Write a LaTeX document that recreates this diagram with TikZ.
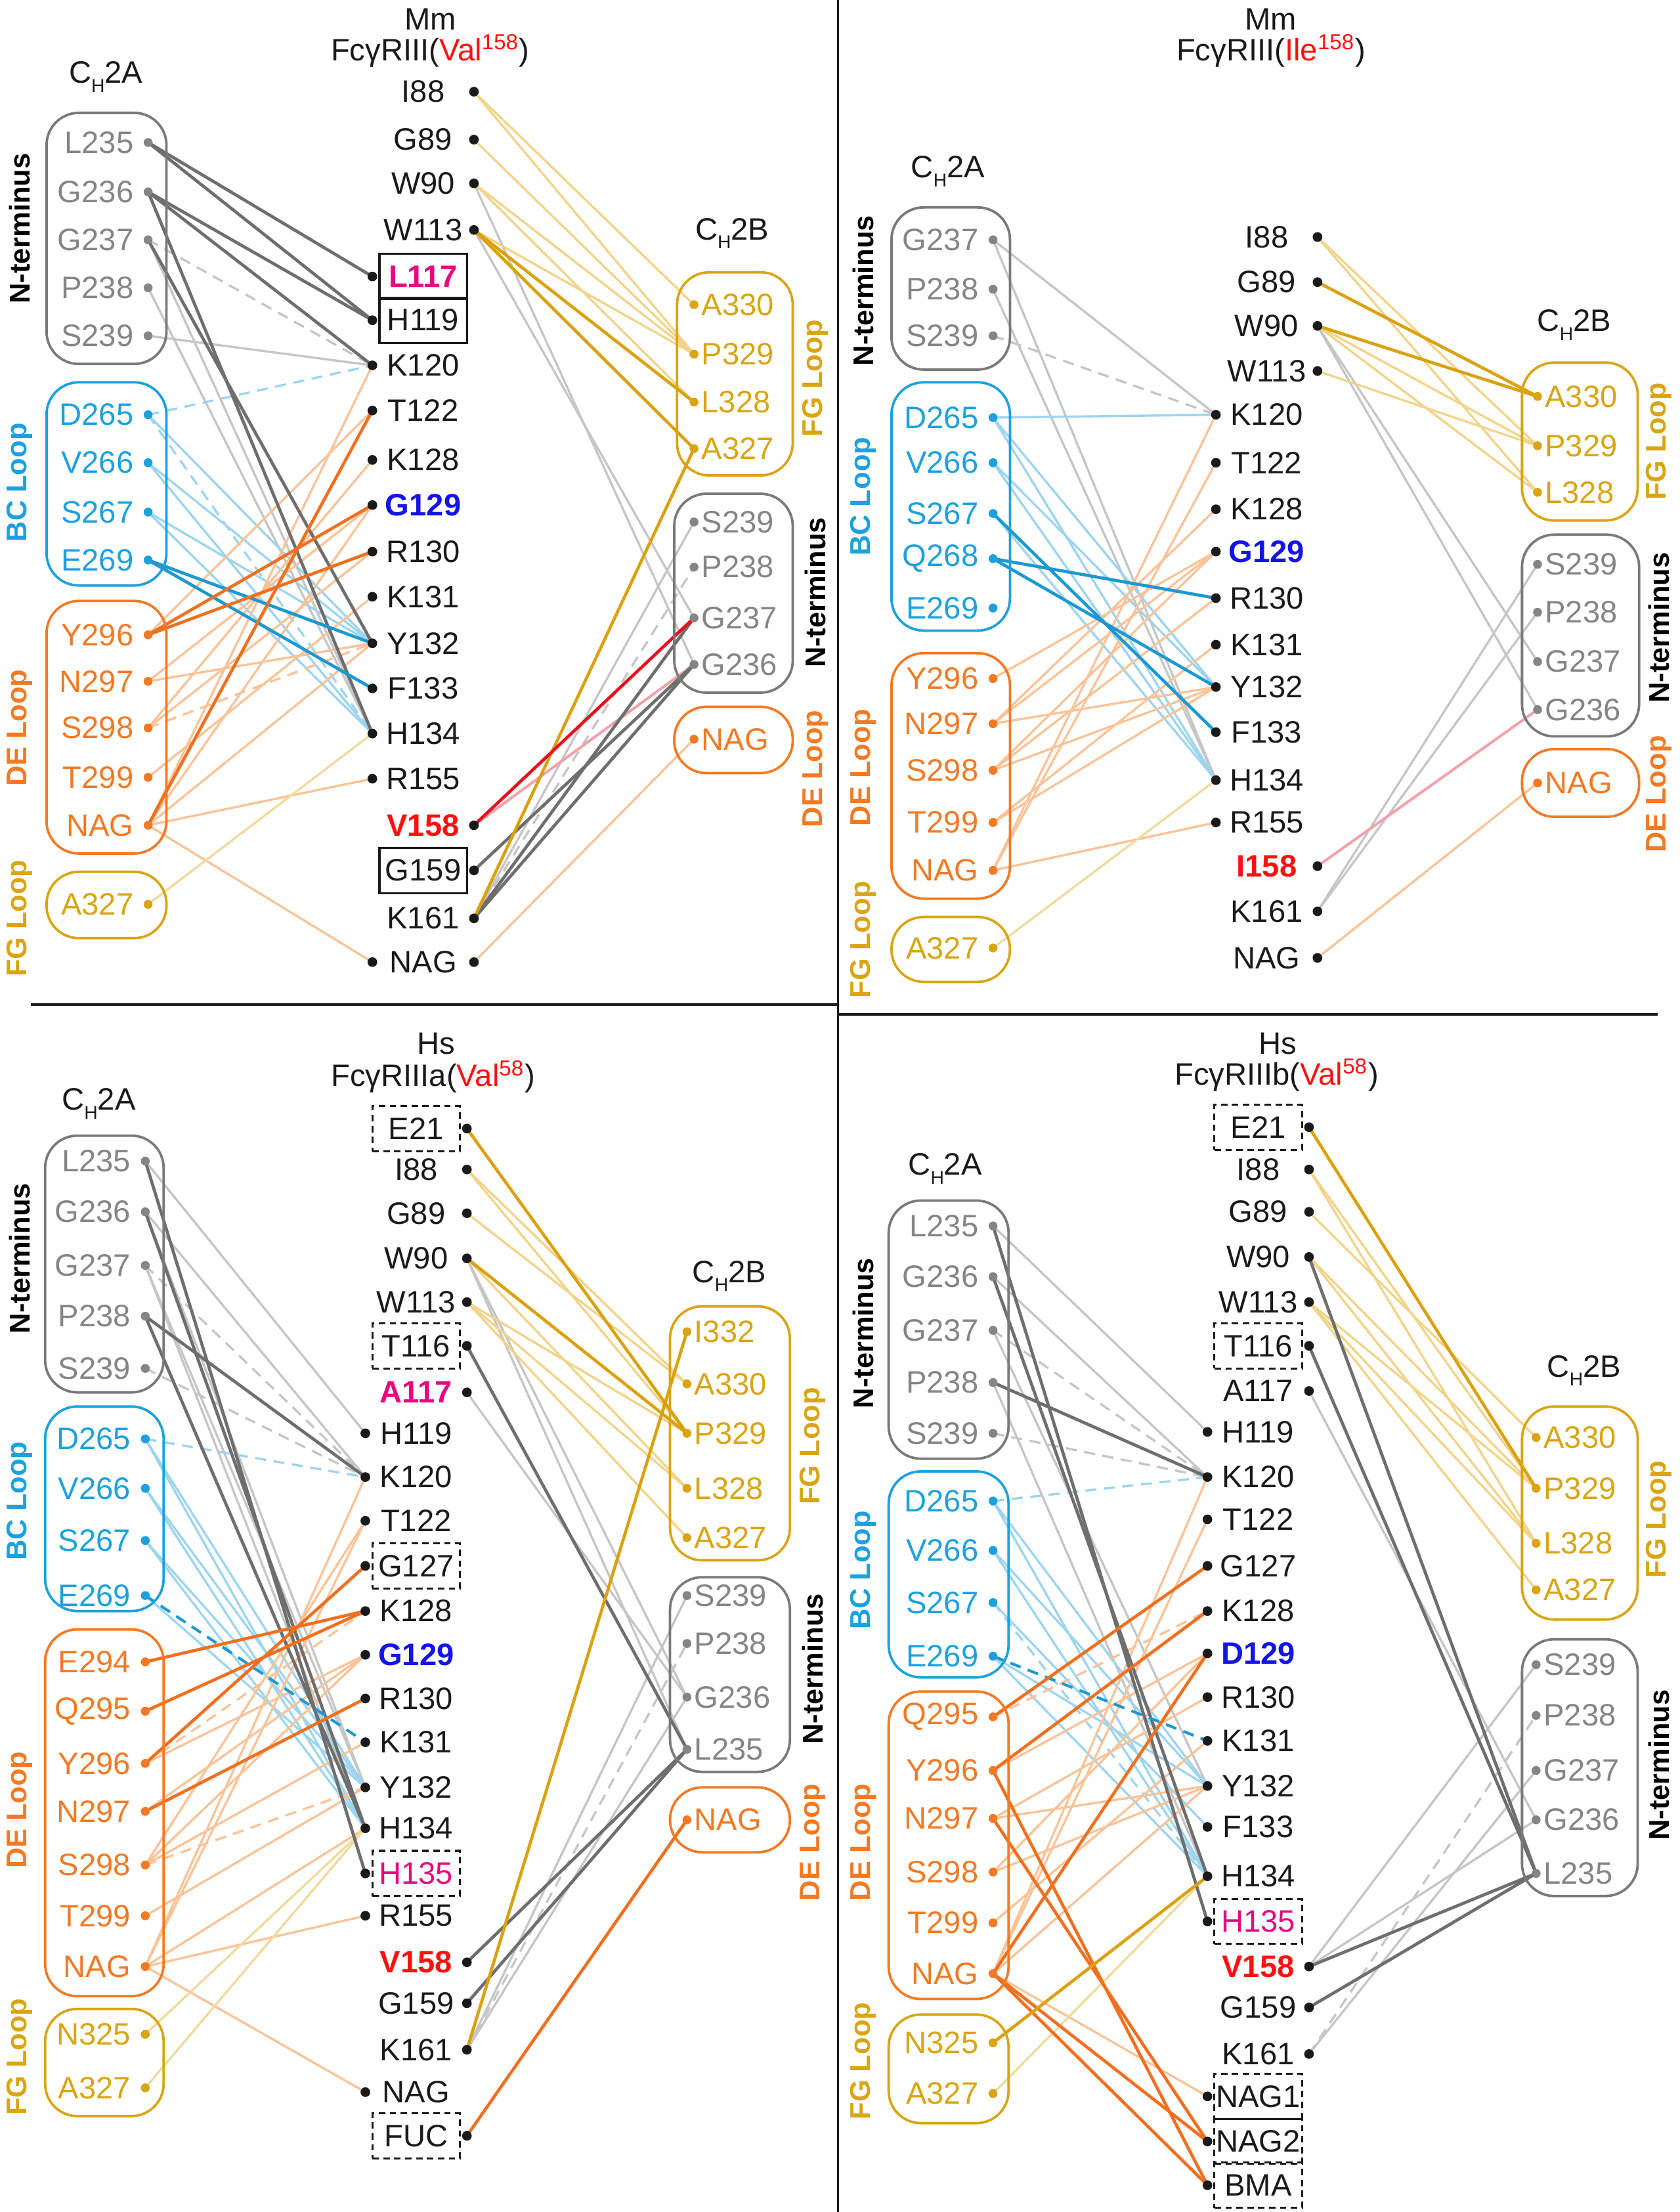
\documentclass[tikz,border=0pt]{standalone}
\usepackage{fontspec}
\setmainfont{Liberation Sans}
\definecolor{tblack}{HTML}{1A1A1A}
\definecolor{tgray}{HTML}{858585}
\definecolor{bgray}{HTML}{7A7A7A}
\definecolor{tblue}{HTML}{1DA1DE}
\definecolor{torange}{HTML}{F27A24}
\definecolor{tgold}{HTML}{D9A514}
\definecolor{dblue}{HTML}{1414E6}
\definecolor{mag}{HTML}{E5087F}
\definecolor{vred}{HTML}{FF1010}
\definecolor{cgk}{HTML}{6E6E6E}
\definecolor{cgl}{HTML}{C6C6C6}
\definecolor{cbl}{HTML}{9DD5F0}
\definecolor{cbk}{HTML}{1C98D3}
\definecolor{col}{HTML}{FAC398}
\definecolor{cok}{HTML}{F07020}
\definecolor{cyl}{HTML}{F2D48A}
\definecolor{cyk}{HTML}{DBA10E}
\definecolor{cpy}{HTML}{EFDB9E}
\definecolor{crk}{HTML}{E8101C}
\definecolor{cpk}{HTML}{F2A2AA}
\newcommand\lab{\fontsize{12.5}{15}\selectfont}
\newcommand\sidef{\fontsize{11.5}{14}\selectfont\bfseries}
\newcommand\chh{C\raisebox{-0.55ex}{\fontsize{7.5}{8}\selectfont H}}
\pgfdeclarelayer{bg}
\pgfsetlayers{bg,main}
\tikzset{
  lbl/.style={inner sep=0pt, font=\lab, text=tblack},
  bb/.style={font=\lab\bfseries},
  dot/.style={circle, inner sep=0pt, minimum size=3.6pt},
  mdot/.style={circle, inner sep=0pt, minimum size=3.9pt, fill=tblack},
  grp/.style={draw, rounded corners=13pt, line width=1pt},
  sidel/.style={font=\sidef, rotate=90, inner sep=0pt},
  sbox/.style={draw=tblack, line width=0.8pt, minimum width=1.24cm, minimum height=0.64cm},
  dbox/.style={sbox, dash pattern=on 2.6pt off 1.8pt},
  gk/.style={draw=cgk, line width=1.25pt},
  gl/.style={draw=cgl, line width=0.9pt},
  gd/.style={draw=cgl, line width=0.9pt, dash pattern=on 4.5pt off 3pt},
  bl/.style={draw=cbl, line width=0.9pt},
  bd/.style={draw=cbl, line width=0.9pt, dash pattern=on 4.5pt off 3pt},
  bk/.style={draw=cbk, line width=1.25pt},
  bkd/.style={draw=cbk, line width=1.1pt, dash pattern=on 4.5pt off 3pt},
  ol/.style={draw=col, line width=0.9pt},
  od/.style={draw=col, line width=0.9pt, dash pattern=on 4.5pt off 3pt},
  ok/.style={draw=cok, line width=1.25pt},
  yl/.style={draw=cyl, line width=0.9pt},
  yk/.style={draw=cyk, line width=1.25pt},
  py/.style={draw=cpy, line width=0.9pt},
  rk/.style={draw=crk, line width=1.25pt},
  pk/.style={draw=cpk, line width=1.1pt}
}
% CH2A item: prefix, text, dot x, y, colour
\newcommand\Aitem[5]{\node[dot,fill=#5] (#1#2) at (#3,#4) {}; \node[lbl,text=#5,anchor=east] at (#3-10,#4) {#2};}
% CH2B item
\newcommand\Bitem[5]{\node[dot,fill=#5] (#1#2) at (#3,#4) {}; \node[lbl,text=#5,anchor=west] at (#3+5,#4) {#2};}
% middle items: [opts]{prefix}{text}{y}{centre}
\newcommand\Ml[5][]{\node[mdot] (#2#3) at (#5-36,#4) {}; \node[lbl,#1] at (#5,#4) {#3};}
\newcommand\Mr[5][]{\node[mdot] (#2#3) at (#5+36,#4) {}; \node[lbl,#1] at (#5,#4) {#3};}
\newcommand\links[2]{\foreach \u/\v in {#2} {\draw[#1] (\u.center) -- (\v.center);}}
\begin{document}
\begin{tikzpicture}[x=0.02cm,y=-0.02cm]
\useasboundingbox (0,0) rectangle (1191,1568);
% dividers
\draw[line width=0.9pt,tblack] (594,0) -- (594,1568);
\draw[line width=0.9pt,tblack] (22,712) -- (594,712);
\draw[line width=0.9pt,tblack] (594,719) -- (1175,719);

%================ TOP LEFT =================
\node[lbl,anchor=base] at (305,21) {Mm};
\node[lbl,anchor=base] at (305,43) {FcγRIII(\textcolor{vred}{Val\textsuperscript{158}})};
\node[lbl,anchor=base] at (75,59) {\chh 2A};
\draw[grp,bgray] (33,80) rectangle (118,258);
\foreach \t/\y in {L235/101,G236/136,G237/170,P238/204,S239/238} {\Aitem{aA}{\t}{105}{\y}{tgray}}
\draw[grp,tblue] (33,271) rectangle (118,415);
\foreach \t/\y in {D265/294,V266/328,S267/363,E269/397} {\Aitem{aA}{\t}{105}{\y}{tblue}}
\draw[grp,torange] (33,426) rectangle (118,605);
\foreach \t/\y in {Y296/450,N297/483,S298/516,T299/551,NAG/585} {\Aitem{aA}{\t}{105}{\y}{torange}}
\draw[grp,tgold] (33,618) rectangle (118,665);
\Aitem{aA}{A327}{105}{641}{tgold}
\node[sidel,text=black] at (14,162) {N-terminus};
\node[sidel,text=tblue] at (14,342) {BC Loop};
\node[sidel,text=torange] at (14,516) {DE Loop};
\node[sidel,text=tgold] at (14,651) {FG Loop};
% middle
\foreach \t/\y in {I88/65,G89/99,W90/130,W113/163,K161/651} {\Mr{aM}{\t}{\y}{300}}
\Ml[bb,text=mag,sbox]{aM}{L117}{196}{300}
\Ml[sbox]{aM}{H119}{227}{300}
\foreach \t/\y in {K120/259,T122/291,K128/326,R130/391,K131/423,Y132/456,F133/488,H134/520,R155/552} {\Ml{aM}{\t}{\y}{300}}
\Ml[bb,text=dblue]{aM}{G129}{358}{300}
\Mr[bb,text=vred]{aM}{V158}{585}{300}
\Mr[sbox]{aM}{G159}{617}{300}
\Ml{aM}{NAG}{682}{300}
\node[mdot] (aMNAGr) at (336,682) {};
% CH2B
\node[lbl,anchor=base] at (519,170) {\chh 2B};
\draw[grp,tgold] (480,193) rectangle (562,337);
\foreach \t/\y in {A330/216,P329/251,L328/285,A327/318} {\Bitem{aB}{\t}{492}{\y}{tgold}}
\draw[grp,bgray] (478,350) rectangle (562,491);
\foreach \t/\y in {S239/370,P238/402,G237/438,G236/471} {\Bitem{aB}{\t}{492}{\y}{tgray}}
\draw[grp,torange] (478,501) rectangle (562,548);
\Bitem{aB}{NAG}{492}{524}{torange}
\node[sidel,text=tgold] at (578,268) {FG Loop};
\node[sidel,text=black] at (578,420) {N-terminus};
\node[sidel,text=torange] at (578,545) {DE Loop};

%================ TOP RIGHT =================
\node[lbl,anchor=base] at (901,21) {Mm};
\node[lbl,anchor=base] at (901,43) {FcγRIII(\textcolor{vred}{Ile\textsuperscript{158}})};
\node[lbl,anchor=base] at (672,126) {\chh 2A};
\draw[grp,bgray] (632,147) rectangle (716,262);
\foreach \t/\y in {G237/170,P238/205,S239/238} {\Aitem{bA}{\t}{704}{\y}{tgray}}
\draw[grp,tblue] (632,271) rectangle (716,447);
\foreach \t/\y in {D265/296,V266/328,S267/364,Q268/396,E269/431} {\Aitem{bA}{\t}{704}{\y}{tblue}}
\draw[grp,torange] (632,463) rectangle (716,637);
\foreach \t/\y in {Y296/481,N297/513,S298/546,T299/583,NAG/617} {\Aitem{bA}{\t}{704}{\y}{torange}}
\draw[grp,tgold] (632,650) rectangle (716,696);
\Aitem{bA}{A327}{704}{672}{tgold}
\node[sidel,text=black] at (612,206) {N-terminus};
\node[sidel,text=tblue] at (612,352) {BC Loop};
\node[sidel,text=torange] at (612,544) {DE Loop};
\node[sidel,text=tgold] at (612,666) {FG Loop};
\foreach \t/\y in {I88/168,G89/200,W90/231,W113/263,K161/646,NAG/679} {\Mr{bM}{\t}{\y}{898}}
\foreach \t/\y in {K120/294,T122/328,K128/361,R130/424,K131/457,Y132/487,F133/519,H134/553,R155/583} {\Ml{bM}{\t}{\y}{898}}
\Ml[bb,text=dblue]{bM}{G129}{391}{898}
\Mr[bb,text=vred]{bM}{I158}{614}{898}
\node[lbl,anchor=base] at (1116,235) {\chh 2B};
\draw[grp,tgold] (1079,257) rectangle (1161,369);
\foreach \t/\y in {A330/281,P329/316,L328/349} {\Bitem{bB}{\t}{1090}{\y}{tgold}}
\draw[grp,bgray] (1079,379) rectangle (1162,522);
\foreach \t/\y in {S239/400,P238/434,G237/469,G236/503} {\Bitem{bB}{\t}{1090}{\y}{tgray}}
\draw[grp,torange] (1079,531) rectangle (1162,579);
\Bitem{bB}{NAG}{1090}{555}{torange}
\node[sidel,text=tgold] at (1176,313) {FG Loop};
\node[sidel,text=black] at (1176,445) {N-terminus};
\node[sidel,text=torange] at (1176,563) {DE Loop};

%================ BOTTOM LEFT =================
\node[lbl,anchor=base] at (309,747) {Hs};
\node[lbl,anchor=base] at (307,770) {FcγRIIIa(\textcolor{vred}{Val\textsuperscript{58}})};
\node[lbl,anchor=base] at (70,787) {\chh 2A};
\draw[grp,bgray] (32,805) rectangle (116,987);
\foreach \t/\y in {L235/823,G236/859,G237/897,P238/933,S239/970} {\Aitem{cA}{\t}{103}{\y}{tgray}}
\draw[grp,tblue] (32,997) rectangle (116,1142);
\foreach \t/\y in {D265/1020,V266/1055,S267/1092,E269/1131} {\Aitem{cA}{\t}{103}{\y}{tblue}}
\draw[grp,torange] (32,1155) rectangle (116,1415);
\foreach \t/\y in {E294/1178,Q295/1213,Y296/1250,N297/1284,S298/1322,T299/1358,NAG/1394} {\Aitem{cA}{\t}{103}{\y}{torange}}
\draw[grp,tgold] (32,1424) rectangle (116,1500);
\foreach \t/\y in {N325/1442,A327/1480} {\Aitem{cA}{\t}{103}{\y}{tgold}}
\node[sidel,text=black] at (14,892) {N-terminus};
\node[sidel,text=tblue] at (14,1064) {BC Loop};
\node[sidel,text=torange] at (14,1283) {DE Loop};
\node[sidel,text=tgold] at (14,1458) {FG Loop};
\Mr[dbox]{cM}{E21}{800}{295}
\foreach \t/\y in {I88/829,G89/860,W90/892,W113/923,G159/1420,K161/1453} {\Mr{cM}{\t}{\y}{295}}
\Mr[dbox]{cM}{T116}{954}{295}
\Mr[bb,text=mag]{cM}{A117}{987}{295}
\foreach \t/\y in {H119/1016,K120/1047,T122/1078,K128/1142,R130/1204,K131/1235,Y132/1267,H134/1296,R155/1358,NAG/1483} {\Ml{cM}{\t}{\y}{295}}
\Ml[dbox]{cM}{G127}{1110}{295}
\Ml[bb,text=dblue]{cM}{G129}{1173}{295}
\Ml[text=mag,dbox]{cM}{H135}{1328}{295}
\Mr[bb,text=vred]{cM}{V158}{1391}{295}
\Mr[dbox]{cM}{FUC}{1514}{295}
\node[lbl,anchor=base] at (517,909) {\chh 2B};
\draw[grp,tgold] (475,926) rectangle (560,1106);
\foreach \t/\y in {I332/944,A330/981,P329/1016,L328/1055,A327/1090} {\Bitem{cB}{\t}{487}{\y}{tgold}}
\draw[grp,bgray] (475,1118) rectangle (560,1256);
\foreach \t/\y in {S239/1131,P238/1165,G236/1203,L235/1240} {\Bitem{cB}{\t}{487}{\y}{tgray}}
\draw[grp,torange] (475,1267) rectangle (560,1313);
\Bitem{cB}{NAG}{487}{1290}{torange}
\node[sidel,text=tgold] at (576,1025) {FG Loop};
\node[sidel,text=black] at (576,1183) {N-terminus};
\node[sidel,text=torange] at (576,1306) {DE Loop};

%================ BOTTOM RIGHT =================
\node[lbl,anchor=base] at (906,747) {Hs};
\node[lbl,anchor=base] at (905,769) {FcγRIIIb(\textcolor{vred}{Val\textsuperscript{58}})};
\node[lbl,anchor=base] at (670,833) {\chh 2A};
\draw[grp,bgray] (630,851) rectangle (715,1034);
\foreach \t/\y in {L235/869,G236/905,G237/943,P238/980,S239/1016} {\Aitem{dA}{\t}{704}{\y}{tgray}}
\draw[grp,tblue] (630,1043) rectangle (715,1189);
\foreach \t/\y in {D265/1064,V266/1099,S267/1136,E269/1174} {\Aitem{dA}{\t}{704}{\y}{tblue}}
\draw[grp,torange] (630,1199) rectangle (715,1417);
\foreach \t/\y in {Q295/1217,Y296/1255,N297/1289,S298/1327,T299/1363,NAG/1399} {\Aitem{dA}{\t}{704}{\y}{torange}}
\draw[grp,tgold] (630,1428) rectangle (715,1505);
\foreach \t/\y in {N325/1448,A327/1484} {\Aitem{dA}{\t}{704}{\y}{tgold}}
\node[sidel,text=black] at (612,945) {N-terminus};
\node[sidel,text=tblue] at (612,1113) {BC Loop};
\node[sidel,text=torange] at (612,1306) {DE Loop};
\node[sidel,text=tgold] at (612,1461) {FG Loop};
\Mr[dbox]{dM}{E21}{799}{892}
\foreach \t/\y in {I88/829,G89/859,W90/891,W113/923,A117/986,G159/1423,K161/1456} {\Mr{dM}{\t}{\y}{892}}
\Mr[dbox]{dM}{T116}{954}{892}
\foreach \t/\y in {H119/1015,K120/1047,T122/1077,G127/1110,K128/1142,R130/1203,K131/1234,Y132/1266,F133/1295,H134/1330} {\Ml{dM}{\t}{\y}{892}}
\Ml[bb,text=dblue]{dM}{D129}{1172}{892}
\Ml[text=mag,dbox]{dM}{H135}{1362}{892}
\Mr[bb,text=vred]{dM}{V158}{1394}{892}
\foreach \t/\y in {NAG1/1486,NAG2/1518,BMA/1549} {\Ml[dbox]{dM}{\t}{\y}{892}}
\node[lbl,anchor=base] at (1123,976) {\chh 2B};
\draw[grp,tgold] (1079,997) rectangle (1161,1148);
\foreach \t/\y in {A330/1019,P329/1055,L328/1094,A327/1127} {\Bitem{dB}{\t}{1089}{\y}{tgold}}
\draw[grp,bgray] (1079,1162) rectangle (1161,1344);
\foreach \t/\y in {S239/1180,P238/1216,G237/1255,G236/1290,L235/1328} {\Bitem{dB}{\t}{1089}{\y}{tgray}}
\node[sidel,text=tgold] at (1176,1077) {FG Loop};
\node[sidel,text=black] at (1176,1251) {N-terminus};

%================ CONNECTORS =================
\begin{pgfonlayer}{bg}
% --- top left
\links{gl}{aAS239/aMK120, aAP238/aMH134, aAG237/aMH134, aMW90/aBG236, aMW113/aBG237, aMK161/aBS239}
\links{gd}{aAG237/aMK120, aMK161/aBP238}
\links{bl}{aAD265/aMY132, aAV266/aMY132, aAV266/aMH134, aAS267/aMY132, aAS267/aMH134}
\links{bd}{aAD265/aMK120, aAD265/aMH134}
\links{ol}{aANAG/aMK120, aAY296/aMT122, aAS298/aMK128, aAN297/aMG129, aANAG/aMG129, aAS298/aMR130, aAT299/aMK131, aAN297/aMY132, aANAG/aMY132, aANAG/aMR155, aANAG/aMNAG, aMNAGr/aBNAG}
\links{od}{aAS298/aMY132}
\links{py}{aAA327/aMH134}
\links{yl}{aMI88/aBA330, aMI88/aBP329, aMG89/aBP329, aMW90/aBP329, aMW90/aBL328, aMW113/aBP329}
\links{pk}{aMV158/aBG236}
\links{gk}{aAL235/aML117, aAL235/aMH119, aAG236/aMH119, aAG236/aMK120, aAG236/aMH134, aAG237/aMY132, aMK161/aBG237, aMK161/aBG236, aMG159/aBG236}
\links{bk}{aAE269/aMY132, aAE269/aMF133}
\links{ok}{aAY296/aMG129, aAY296/aMR130, aANAG/aMT122}
\links{yk}{aMW113/aBL328, aMW113/aBA327, aMK161/aBA327}
\links{rk}{aMV158/aBG237}
% --- top right
\links{gl}{bAG237/bMK120, bAG237/bMH134, bAP238/bMH134, bMW90/bBG237, bMW90/bBG236, bMK161/bBS239, bMK161/bBP238}
\links{gd}{bAS239/bMK120}
\links{bl}{bAD265/bMK120, bAD265/bMY132, bAD265/bMH134, bAV266/bMY132, bAV266/bMH134, bAS267/bMH134}
\links{ol}{bAY296/bMG129, bAN297/bMK128, bAN297/bMG129, bAN297/bMY132, bAS298/bMG129, bAS298/bMR130, bAS298/bMY132, bAT299/bMK131, bAT299/bMY132, bANAG/bMK120, bANAG/bMT122, bANAG/bMR155, bMNAG/bBNAG}
\links{py}{bAA327/bMH134}
\links{yl}{bMI88/bBP329, bMI88/bBL328, bMW90/bBP329, bMW90/bBL328, bMW113/bBP329}
\links{pk}{bMI158/bBG236}
\links{bk}{bAS267/bMF133, bAQ268/bMR130, bAQ268/bMY132}
\links{yk}{bMG89/bBA330, bMW90/bBA330}
% --- bottom left
\links{gl}{cAL235/cMH119, cAG236/cMK120, cAG236/cMY132, cAG237/cMY132, cAG237/cMH134, cMW90/cBL235, cMW90/cBG236, cMA117/cBG236, cMK161/cBS239, cMK161/cBG236}
\links{gd}{cAG237/cMK120, cAS239/cMK120, cMK161/cBP238}
\links{bl}{cAD265/cMY132, cAD265/cMH134, cAV266/cMY132, cAV266/cMH134, cAS267/cMY132, cAS267/cMH134, cAE269/cMY132}
\links{bd}{cAD265/cMK120}
\links{ol}{cANAG/cMK120, cANAG/cMT122, cAS298/cMT122, cAY296/cMG129, cAS298/cMG129, cAN297/cMG129, cAS298/cMK131, cAT299/cMY132, cANAG/cMH134, cANAG/cMR155, cANAG/cMNAG}
\links{od}{cAY296/cMK128, cAS298/cMY132}
\links{py}{cAN325/cMH134, cAA327/cMH134}
\links{yl}{cMI88/cBA330, cMI88/cBP329, cMG89/cBA330, cMW90/cBL328, cMW113/cBP329, cMW113/cBL328, cMW113/cBA327}
\links{gk}{cAL235/cMH135, cAG236/cMH134, cAP238/cMK120, cAP238/cMH134, cMT116/cBL235, cMV158/cBL235, cMG159/cBL235}
\links{bkd}{cAE269/cMK131}
\links{ok}{cAE294/cMK128, cAQ295/cMK128, cAY296/cMG127, cAN297/cMR130, cMFUC/cBNAG}
\links{yk}{cME21/cBP329, cMW90/cBP329, cMK161/cBI332}
% --- bottom right
\links{gl}{dAL235/dMH119, dAG236/dMK120, dAG237/dMY132, dAP238/dMH134, dMA117/dBG236, dMV158/dBS239, dMV158/dBG236, dMK161/dBG237}
\links{gd}{dAG237/dMK120, dAS239/dMK120, dMK161/dBP238}
\links{bl}{dAD265/dMY132, dAD265/dMH134, dAV266/dMY132, dAV266/dMH134, dAS267/dMF133, dAE269/dMY132, dAE269/dMH134}
\links{bd}{dAD265/dMK120, dAS267/dMH134}
\links{ol}{dANAG/dMK120, dANAG/dMT122, dAY296/dMD129, dAN297/dMR130, dAS298/dMD129, dAS298/dMY132, dAT299/dMK131, dAN297/dMY132, dANAG/dMY132, dANAG/dMNAG1}
\links{od}{dAQ295/dMK128}
\links{py}{dAA327/dMH134}
\links{yl}{dMI88/dBP329, dMI88/dBL328, dMG89/dBA330, dMW90/dBP329, dMW90/dBL328, dMW113/dBP329, dMW113/dBL328, dMW113/dBA327}
\links{gk}{dAL235/dMH135, dAG236/dMH134, dAP238/dMK120, dMW90/dBL235, dMT116/dBL235, dMV158/dBL235, dMG159/dBL235}
\links{bkd}{dAE269/dMK131}
\links{ok}{dAQ295/dMG127, dAY296/dMK128, dAY296/dMBMA, dAN297/dMNAG2, dANAG/dMD129, dANAG/dMNAG2, dANAG/dMBMA}
\links{yk}{dME21/dBP329, dAN325/dMH134}
\end{pgfonlayer}
\end{tikzpicture}
\end{document}
